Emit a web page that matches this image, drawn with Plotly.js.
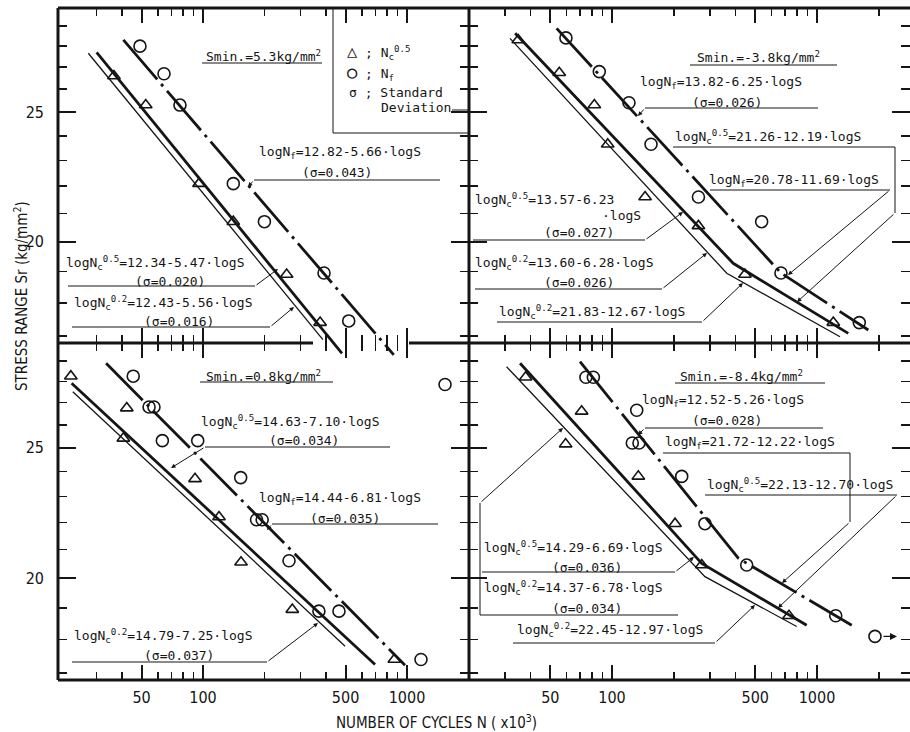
<!DOCTYPE html>
<html><head><meta charset="utf-8">
<script src="https://cdn.plot.ly/plotly-3.0.1.min.js"></script>
<style>html,body{margin:0;padding:0;background:#fff}#chart{width:910px;height:732px}</style>
</head><body><div id="chart"></div>
<script>
// ---------------- DATA (N in x10^3 cycles, S in kg/mm^2) ----------------
// Top-left panel : Smin = 5.3 kg/mm2
const tlTriN = [36.6, 52.4, 95.6, 140.8, 257, 375];
const tlTriS = [26.6, 25.3, 22.1, 20.7, 18.9, 17.4];
const tlCirN = [49.1, 64.4, 77.1, 140.8, 200, 392, 518];
const tlCirS = [28.0, 26.7, 25.3, 22.1, 20.7, 18.95, 17.45];
const tlNfN  = [40.7, 861];  const tlNfS  = [28.3, 16.46];
const tlNc5N = [30.1, 480];  const tlNc5S = [27.7, 16.5];
const tlNc2N = [27.4, 387];  const tlNc2S = [27.66, 16.9];

// Top-right panel : Smin = -3.8 kg/mm2
const trTriN = [34.9, 55.3, 82.0, 95.3, 145, 264, 445, 1201];
const trTriS = [28.3, 26.75, 25.3, 23.65, 21.6, 20.55, 18.9, 17.4];
const trCirN = [59.6, 86.7, 121, 155, 264, 537, 667, 1608];
const trCirS = [28.4, 26.8, 25.4, 23.65, 21.6, 20.7, 18.95, 17.4];
const trNfN  = [53.7, 667, 1779];  const trNfS  = [28.87, 18.95, 17.18];
const trNc5N = [33.7, 390, 1421];  const trNc5S = [28.63, 19.27, 17.08];
const trNc2N = [31.8, 363, 1295];  const trNc2S = [28.38, 18.94, 16.98];

// Bottom-left panel : Smin = 0.8 kg/mm2
const blTriN = [22.5, 42.3, 40.7, 91.4, 119.8, 153.6, 274, 867];
const blTriS = [28.25, 26.75, 25.4, 23.7, 22.2, 20.55, 18.95, 17.4];
const blCirN = [45.5, 54.4, 57.5, 63.2, 94.2, 153, 183, 195, 264, 370, 464, 1171, 1536];
const blCirS = [28.25, 26.8, 26.8, 25.3, 25.3, 23.75, 22.1, 22.1, 20.6, 18.9, 18.9, 17.4, 27.85];
const blNfN  = [33.5, 978];  const blNfS  = [28.88, 17.23];
const blNc5N = [22.7, 697];  const blNc5S = [27.91, 17.25];
const blNc2N = [23.0, 497];  const blNc2S = [27.51, 17.80];

// Bottom-right panel : Smin = -8.4 kg/mm2
const brTriN = [37.9, 71.1, 59.4, 134.4, 203, 274, 730];
const brTriS = [28.2, 26.6, 25.15, 23.8, 21.95, 20.45, 18.75];
const brCirN = [74.6, 81.1, 132, 125.6, 135.4, 218.8, 284, 454, 1234];
const brCirS = [28.2, 28.2, 26.65, 25.2, 25.2, 23.8, 21.95, 20.45, 18.75];
const brRunN = [1918];  const brRunS = [18.1];   // run-out
const brNfN  = [69.8, 413, 1477];  const brNfS  = [28.96, 20.69, 18.45];
const brNc5N = [35.6, 274, 891];   const brNc5S = [28.88, 20.51, 18.45];
const brNc2N = [30.6, 284, 796];   const brNc2S = [28.71, 20.05, 18.41];

// tick labels
const majorX = [50, 100, 500, 1000];
const majorXText = ['50', '100', '500', '1000'];
const minorX = [30, 40, 60, 70, 80, 90, 200, 300, 400, 600, 700, 800, 900, 2000];
const majorY = [20, 25];
const majorYText = ['20', '25'];
const minorY = [17, 18, 19, 21, 22, 23, 24, 26, 27, 28, 29];

// ---------------- LAYOUT HELPERS ----------------
const W = 910, H = 732;
const INK = '#151515';
const MONO = "DejaVu Sans Mono, Liberation Mono, monospace";
const NARROW = "Liberation Sans Narrow, DejaVu Sans Condensed, Arial Narrow, sans-serif";
const px = x => x / W, py = y => 1 - y / H;

// pixel geometry of the panels
const LX = [58, 469], RX = [469, 910], TY = [8, 343], BY = [343, 680];
const lxRange = [2 + (LX[0] - 203) / 204, 2 + (LX[1] - 203) / 204];
const rxRange = [2 + (RX[0] - 612) / 205, 2 + (RX[1] - 612) / 205];
const STOP = Math.log10(29.9);
const tyRange = [STOP - (TY[1] - TY[0]) / 1338, STOP];
const byRange = [STOP - (BY[1] - BY[0]) / 1346, STOP];
const extBottom = 364;
const t5Range = [STOP - (extBottom - TY[0]) / 1338, STOP];

function xax(pxDom, range, anchor, labels) {
  return {
    type: 'log', domain: [px(pxDom[0]), px(pxDom[1])], range, anchor,
    showgrid: false, zeroline: false, showline: false,
    ticks: 'inside', ticklen: 15, tickwidth: 2, tickcolor: INK, mirror: 'ticks',
    tickmode: 'array', tickvals: majorX, ticktext: majorXText, showticklabels: labels,
    minor: {tickmode: 'array', tickvals: minorX, ticks: 'inside', ticklen: 8, tickwidth: 1.6, tickcolor: INK, showgrid: false},
    tickfont: {family: NARROW, size: 16, color: INK}, ticklabelstandoff: 6, fixedrange: true
  };
}
function yax(pyDom, range, anchor, labels) {
  return {
    type: 'log', domain: [py(pyDom[1]), py(pyDom[0])], range, anchor,
    showgrid: false, zeroline: false, showline: false,
    ticks: 'inside', ticklen: 18, tickwidth: 2, tickcolor: INK, mirror: 'ticks',
    tickmode: 'array', tickvals: majorY, ticktext: majorYText, showticklabels: labels,
    minor: {tickmode: 'array', tickvals: minorY, ticks: 'inside', ticklen: 9, tickwidth: 1.6, tickcolor: INK, showgrid: false},
    tickfont: {family: NARROW, size: 16, color: INK}, ticklabelstandoff: 13, fixedrange: true
  };
}

function marks(xa, ya, N, S, symbol, size) {
  return {type: 'scatter', mode: 'markers', x: N, y: S, xaxis: xa, yaxis: ya, cliponaxis: false,
    marker: {symbol, size, color: INK, line: {color: INK, width: 1.6}}, hoverinfo: 'skip', showlegend: false};
}
function ln(xa, ya, N, S, width, dash) {
  return {type: 'scatter', mode: 'lines', x: N, y: S, xaxis: xa, yaxis: ya,
    line: {color: INK, width, dash: dash || 'solid'}, hoverinfo: 'skip', showlegend: false};
}
const DD = '52px,6px,3px,6px';
const THICK = 2.8, THIN = 1.3;

const traces = [
  // top-left (lines on extended overlay axes so they run past the divider)
  ln('x5', 'y5', tlNc2N, tlNc2S, THIN), ln('x5', 'y5', tlNc5N, tlNc5S, THICK), ln('x5', 'y5', tlNfN, tlNfS, THICK, DD),
  marks('x', 'y', tlTriN, tlTriS, 'triangle-up-open', 11), marks('x', 'y', tlCirN, tlCirS, 'circle-open', 12),
  // top-right
  ln('x2', 'y2', trNc2N, trNc2S, THIN), ln('x2', 'y2', trNc5N, trNc5S, THICK), ln('x2', 'y2', trNfN, trNfS, THICK, DD),
  marks('x2', 'y2', trTriN, trTriS, 'triangle-up-open', 11), marks('x2', 'y2', trCirN, trCirS, 'circle-open', 12),
  // bottom-left
  ln('x3', 'y3', blNc2N, blNc2S, THIN), ln('x3', 'y3', blNc5N, blNc5S, THICK), ln('x3', 'y3', blNfN, blNfS, THICK, DD),
  marks('x3', 'y3', blTriN, blTriS, 'triangle-up-open', 11), marks('x3', 'y3', blCirN, blCirS, 'circle-open', 12),
  // bottom-right
  ln('x4', 'y4', brNc2N, brNc2S, THIN), ln('x4', 'y4', brNc5N, brNc5S, THICK), ln('x4', 'y4', brNfN, brNfS, THICK, DD),
  marks('x4', 'y4', brTriN, brTriS, 'triangle-up-open', 11), marks('x4', 'y4', brCirN, brCirS, 'circle-open', 12),
  marks('x4', 'y4', brRunN, brRunS, 'circle-open', 12)
];

// ---------------- SHAPES / ANNOTATIONS ----------------
const shapes = [];
function seg(pts, w) {
  let d = 'M ' + pts.map(p => px(p[0]) + ' ' + py(p[1])).join(' L ');
  shapes.push({type: 'path', xref: 'paper', yref: 'paper', path: d, line: {color: INK, width: w || 1}, layer: 'above'});
}
// frame
seg([[LX[0], TY[0]], [RX[1], TY[0]]], 3);
seg([[LX[0], BY[1]], [RX[1], BY[1]]], 3);
seg([[LX[0], TY[0]], [LX[0], BY[1]]], 3);
seg([[LX[1], TY[0]], [LX[1], BY[1]]], 3);
seg([[LX[0], 343], [313, 343]], 3);
seg([[409, 343], [RX[1], 343]], 3);

const ann = [];
function txt(t, x, y, o) {
  ann.push(Object.assign({xref: 'paper', yref: 'paper', x: px(x), y: py(y), xanchor: 'left', yanchor: 'middle',
    text: t, showarrow: false, font: {family: MONO, size: 13, color: INK}}, o || {}));
}
function arr(x0, y0, x1, y1) {
  ann.push({xref: 'paper', yref: 'paper', x: px(x1), y: py(y1), ax: x0 - x1, ay: y0 - y1, axref: 'pixel', ayref: 'pixel',
    text: '', showarrow: true, arrowhead: 2, arrowsize: 0.9, arrowwidth: 1, arrowcolor: INK, standoff: 0, startstandoff: 0});
}
const Nc5 = 'logN<sub>c</sub><sup>0.5</sup>', Nc2 = 'logN<sub>c</sub><sup>0.2</sup>', Nf = 'logN<sub>f</sub>';
const big = s => '<span style="font-size:17px;font-weight:bold">' + s + '</span>';

// top-left
txt('Smin.=5.3kg/mm<sup>2</sup>', 204, 56); seg([[202, 63], [322, 63]]);
seg([[333, TY[0]], [333, 133], [LX[1], 133]]);
txt(big('△') + ' ; N<sub>c</sub><sup>0.5</sup>', 345, 52);
txt(big('○') + ' ; N<sub>f</sub>', 345, 73);
txt('σ ; Standard', 347, 92);
txt('Deviation', 379, 107); seg([[452, 110], [LX[1], 110]]);
txt(Nf + '=12.82-5.66·logS', 257, 152); txt('(σ=0.043)', 300, 172);
seg([[440, 180], [254, 180]]); arr(254, 180, 248, 187);
txt(Nc5 + '=12.34-5.47·logS', 64, 263); txt('(σ=0.020)', 133, 281);
seg([[68, 286], [255, 286]]); arr(255, 286, 278, 269);
txt(Nc2 + '=12.43-5.56·logS', 72, 303); txt('(σ=0.016)', 142, 321);
seg([[72, 327], [270, 327]]); arr(270, 327, 294, 307);

// top-right
txt('Smin.=-3.8kg/mm<sup>2</sup>', 695, 57); seg([[690, 65], [837, 65]]);
txt(Nf + '=13.82-6.25·logS', 638, 82); txt('(σ=0.026)', 690, 102);
seg([[818, 108], [645, 108]]); arr(645, 108, 638, 116);
txt(Nc5 + '=21.26-12.19·logS', 673, 137);
seg([[673, 147], [895, 147], [895, 213]]); arr(895, 213, 797, 302);
txt(Nf + '=20.78-11.69·logS', 707, 180);
seg([[710, 190], [890, 190]]); arr(890, 190, 788, 275);
txt(Nc5 + '=13.57-6.23', 473, 200); txt('·logS', 600, 215); txt('(σ=0.027)', 542, 233);
seg([[473, 240], [645, 240]]); arr(645, 240, 683, 212);
txt(Nc2 + '=13.60-6.28·logS', 473, 263); txt('(σ=0.026)', 542, 283);
seg([[475, 289], [662, 289]]); arr(662, 289, 707, 253);
txt(Nc2 + '=21.83-12.67·logS', 497, 312);
seg([[497, 322], [702, 322]]); arr(702, 322, 743, 283);

// bottom-left
txt('Smin.=0.8kg/mm<sup>2</sup>', 204, 376); seg([[200, 382], [333, 382]]);
txt(Nc5 + '=14.63-7.10·logS', 199, 422); txt('(σ=0.034)', 267, 441);
seg([[390, 447], [205, 447]]); arr(205, 447, 171, 468);
txt(Nf + '=14.44-6.81·logS', 257, 498); txt('(σ=0.035)', 308, 518);
seg([[438, 524], [272, 524]]); arr(272, 524, 267, 530);
txt(Nc2 + '=14.79-7.25·logS', 72, 636); txt('(σ=0.037)', 142, 655);
seg([[72, 662], [267, 662]]); arr(267, 662, 318, 623);

// bottom-right
txt('Smin.=-8.4kg/mm<sup>2</sup>', 678, 376); seg([[675, 383], [825, 383]]);
txt(Nf + '=12.52-5.26·logS', 640, 400); txt('(σ=0.028)', 690, 420);
seg([[823, 428], [645, 428]]); arr(645, 428, 638, 435);
txt(Nf + '=21.72-12.22·logS', 663, 443);
seg([[663, 453], [850, 453], [850, 522]]); arr(850, 522, 782, 583);
txt(Nc5 + '=22.13-12.70·logS', 705, 485);
seg([[705, 495], [897, 495]]); arr(897, 495, 778, 608);
txt(Nc5 + '=14.29-6.69·logS', 482, 548); txt('(σ=0.036)', 550, 567);
seg([[482, 572], [675, 572]]); arr(675, 572, 694, 557);
txt(Nc2 + '=14.37-6.78·logS', 482, 588); txt('(σ=0.034)', 550, 608);
seg([[678, 615], [480, 615], [480, 503]]); arr(480, 503, 563, 428);
txt(Nc2 + '=22.45-12.97·logS', 515, 630);
seg([[513, 643], [715, 643]]); arr(715, 643, 755, 605);
// run-out arrow, anchored on the run-out point
ann.push({xref: 'x4', yref: 'y4', x: Math.log10(brRunN[0]), y: Math.log10(brRunS[0]), xshift: 22, ax: -15, ay: 0,
  text: '', showarrow: true, arrowhead: 2, arrowsize: 1, arrowwidth: 1.4, arrowcolor: INK, standoff: 0, startstandoff: 0});

// axis titles
ann.push({xref: 'paper', yref: 'paper', x: px(21), y: py(296), xanchor: 'center', yanchor: 'middle', textangle: -90,
  text: 'STRESS RANGE Sr (kg/mm<sup>2</sup>)', showarrow: false, font: {family: NARROW, size: 15, color: INK}});
ann.push({xref: 'paper', yref: 'paper', x: px(436), y: py(722), xanchor: 'center', yanchor: 'middle',
  text: 'NUMBER OF CYCLES N ( x10<sup>3</sup>)', showarrow: false, font: {family: NARROW, size: 15, color: INK}});

const layout = {
  width: W, height: H, margin: {l: 0, r: 0, t: 0, b: 0},
  paper_bgcolor: '#fff', plot_bgcolor: 'rgba(0,0,0,0)', showlegend: false,
  xaxis: xax(LX, lxRange, 'y', false),  yaxis: yax(TY, tyRange, 'x', true),
  xaxis2: xax(RX, rxRange, 'y2', false), yaxis2: yax(TY, tyRange, 'x2', false),
  xaxis3: xax(LX, lxRange, 'y3', true),  yaxis3: yax(BY, byRange, 'x3', true),
  xaxis4: xax(RX, rxRange, 'y4', true),  yaxis4: yax(BY, byRange, 'x4', false),
  xaxis5: {type: 'log', domain: [px(LX[0]), px(LX[1])], range: lxRange, anchor: 'y5', visible: false, fixedrange: true},
  yaxis5: {type: 'log', domain: [py(extBottom), py(TY[0])], range: t5Range, anchor: 'x5', visible: false, fixedrange: true},
  shapes, annotations: ann
};

Plotly.newPlot('chart', traces, layout, {displayModeBar: false, staticPlot: true});
</script></body></html>
